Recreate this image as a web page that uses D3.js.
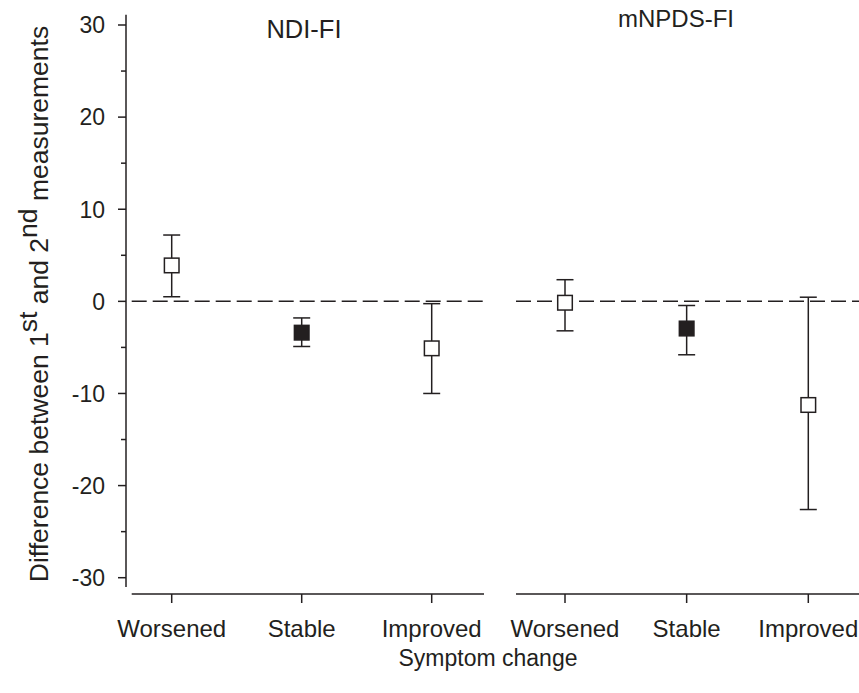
<!DOCTYPE html>
<html><head><meta charset="utf-8">
<script src="https://cdn.jsdelivr.net/npm/d3@7"></script>
<style>
body{margin:0;background:#fff;}
text{font-family:"Liberation Sans",Arial,sans-serif;fill:#231f20;}
</style></head>
<body><svg id="c" width="859" height="693"></svg>
<script>
const categories = ["Worsened","Stable","Improved"];
const panels = ["NDI-FI","mNPDS-FI"];
// mean, lower, upper per panel
const ndiMean  = [3.9, -3.4, -5.1];
const ndiLow   = [0.5, -4.9, -10.0];
const ndiHigh  = [7.2, -1.8, -0.25];
const mnpdsMean = [-0.15, -2.95, -11.25];
const mnpdsLow  = [-3.2, -5.8, -22.6];
const mnpdsHigh = [2.35, -0.45, 0.45];
const filled = [false, true, false];
const yTicks = [-30,-20,-10,0,10,20,30];
const yMinor = [-25,-15,-5,5,15,25];

const ink = "#231f20";
const svg = d3.select("#c");
const y = d3.scaleLinear().domain([-30,30]).range([577.7,25]);

const panelDefs = [
  {name: panels[0], mean: ndiMean, low: ndiLow, high: ndiHigh,
   x: d3.scaleLinear().domain([0,2]).range([171.7,431.7]), axis:[131.7,484], labelX: 304, labelY: 38, fs: 25.5},
  {name: panels[1], mean: mnpdsMean, low: mnpdsLow, high: mnpdsHigh,
   x: d3.scaleLinear().domain([0,2]).range([565,808.3]), axis:[516,859], labelX: 676, labelY: 27, fs: 24}
];

// Y axis
const yAxisX = 126;
svg.append("line").attr("x1",yAxisX).attr("x2",yAxisX)
  .attr("y1",y(31.1)).attr("y2",y(-31)).attr("stroke",ink).attr("stroke-width",1.5);
const g = svg.append("g");
yTicks.forEach(t=>{
  g.append("line").attr("x1",yAxisX-8).attr("x2",yAxisX).attr("y1",y(t)).attr("y2",y(t))
   .attr("stroke",ink).attr("stroke-width",1.5);
  g.append("text").attr("x",yAxisX-21).attr("y",y(t)).attr("dy","0.36em")
   .attr("text-anchor","end").attr("font-size",23).text(t);
});
yMinor.forEach(t=>{
  g.append("line").attr("x1",yAxisX-5).attr("x2",yAxisX).attr("y1",y(t)).attr("y2",y(t))
   .attr("stroke",ink).attr("stroke-width",1.5);
});

// Y label
const yl = svg.append("text").attr("transform","translate(48,304) rotate(-90)")
  .attr("text-anchor","middle").attr("font-size",26.5);
yl.append("tspan").text("Difference between 1");
yl.append("tspan").attr("dy",-11).text("st");
yl.append("tspan").attr("dy",11).text(" and  2");
yl.append("tspan").attr("dy",-11).text("nd");
yl.append("tspan").attr("dy",11).text(" measurements");

const xAxisY = 594;
panelDefs.forEach(p=>{
  // x axis
  svg.append("line").attr("x1",p.axis[0]).attr("x2",p.axis[1]).attr("y1",xAxisY).attr("y2",xAxisY)
    .attr("stroke",ink).attr("stroke-width",1.5);
  categories.forEach((c,i)=>{
    svg.append("line").attr("x1",p.x(i)).attr("x2",p.x(i)).attr("y1",xAxisY).attr("y2",xAxisY+9)
      .attr("stroke",ink).attr("stroke-width",1.5);
    svg.append("text").attr("x",p.x(i)).attr("y",637).attr("text-anchor","middle")
      .attr("font-size",24).text(c);
  });
  // zero dashed line
  svg.append("line").attr("x1",p.axis[0]).attr("x2",p.axis[1]).attr("y1",y(0)).attr("y2",y(0))
    .attr("stroke",ink).attr("stroke-width",1.5).attr("stroke-dasharray","15,6");
  // panel label
  svg.append("text").attr("x",p.labelX).attr("y",p.labelY).attr("text-anchor","middle")
    .attr("font-size",p.fs).text(p.name);
  // error bars
  categories.forEach((c,i)=>{
    const cx = p.x(i);
    const eb = svg.append("g");
    eb.append("line").attr("x1",cx).attr("x2",cx).attr("y1",y(p.low[i])).attr("y2",y(p.high[i]))
      .attr("stroke",ink).attr("stroke-width",1.5);
    [p.low[i], p.high[i]].forEach(v=>{
      eb.append("line").attr("x1",cx-8.5).attr("x2",cx+8.5).attr("y1",y(v)).attr("y2",y(v))
        .attr("stroke",ink).attr("stroke-width",1.5);
    });
    eb.append("rect").attr("x",cx-7.3).attr("y",y(p.mean[i])-7.3).attr("width",14.6).attr("height",14.6)
      .attr("fill",filled[i]?ink:"#fff").attr("stroke",ink).attr("stroke-width",1.5);
  });
});

// x axis title
svg.append("text").attr("x",488).attr("y",666).attr("text-anchor","middle")
  .attr("font-size",23).text("Symptom change");
</script></body></html>
